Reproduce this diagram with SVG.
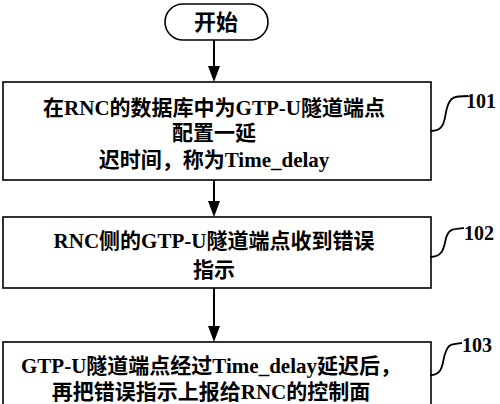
<svg xmlns="http://www.w3.org/2000/svg" width="500" height="404" viewBox="0 0 500 404">
<style>
.box{fill:none;stroke:#000;stroke-width:1.6}
.t{font-family:"Liberation Serif","Noto Sans CJK SC",serif;font-weight:bold;font-size:21px;fill:#000;text-anchor:middle}
.lb{font-family:"Liberation Serif",serif;font-weight:bold;font-size:20px;fill:#000}
.ln{fill:none;stroke:#000;stroke-width:2}
.cv{fill:none;stroke:#000;stroke-width:1.8}
.ah{fill:#000}
</style>
<g id="connectors">
<line class="ln" x1="214" y1="40" x2="214" y2="66"/>
<path class="ah" d="M208,66 L220,66 L214,82 Z"/>
<line class="ln" x1="214" y1="180" x2="214" y2="201"/>
<path class="ah" d="M208,201 L220,201 L214,217 Z"/>
<line class="ln" x1="214" y1="288" x2="214" y2="326"/>
<path class="ah" d="M208,326 L220,326 L214,342 Z"/>
</g>
<g id="start">
<rect x="165" y="4" width="103" height="36" rx="18" ry="18" class="box"/>
<text class="t" x="216" y="30" style="font-size:22px">开始</text>
</g>
<g id="step101">
<rect x="3" y="82" width="428" height="98" class="box"/>
<text class="t" x="214" y="115">在RNC的数据库中为GTP-U隧道端点</text>
<text class="t" x="214" y="140">配置一延</text>
<text class="t" x="214" y="167">迟时间，称为Time_delay</text>
<path class="cv" d="M431,131 C446,131 444,118 447,108 C450,97 454,96 468,96"/>
<text class="lb" x="466" y="108">101</text>
</g>
<g id="step102">
<rect x="3" y="217" width="428" height="71" class="box"/>
<text class="t" x="214" y="248">RNC侧的GTP-U隧道端点收到错误</text>
<text class="t" x="214" y="277">指示</text>
<path class="cv" d="M430,257 C444,257 444,246 446,238 C449,229 452,229 464,228"/>
<text class="lb" x="464" y="240">102</text>
</g>
<g id="step103">
<rect x="3" y="342" width="428" height="70" class="box"/>
<text class="t" x="211" y="373">GTP-U隧道端点经过Time_delay延迟后，</text>
<text class="t" x="211" y="399">再把错误指示上报给RNC的控制面</text>
<path class="cv" d="M430,375 C444,375 442,362 445,354 C448,344 451,344 462,343"/>
<text class="lb" x="462" y="352">103</text>
</g>
</svg>
